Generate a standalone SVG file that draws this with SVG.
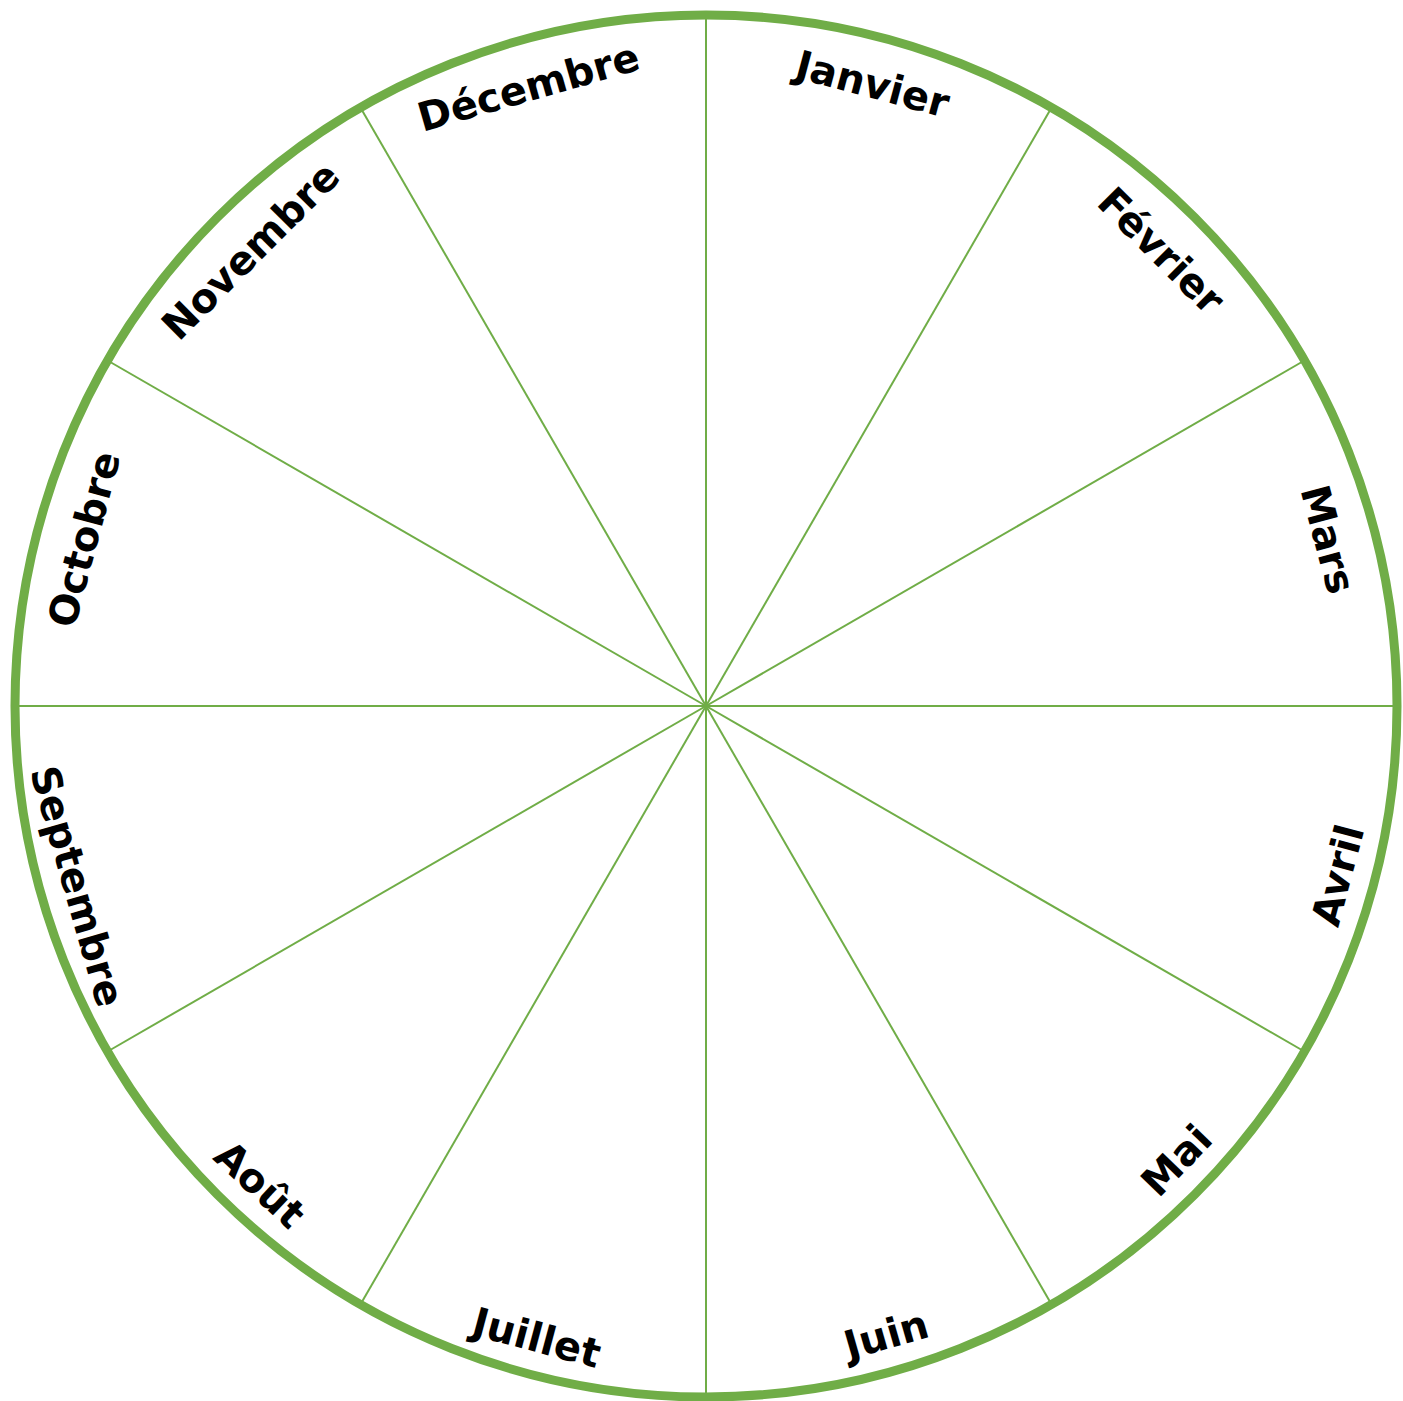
<svg xmlns="http://www.w3.org/2000/svg" width="1403" height="1401" viewBox="0 0 1403 1401">
<style>
.rim{fill:none;stroke:#70AD47;stroke-width:9}
.spoke{stroke:#70AD47;stroke-width:2}
.lbl{font-family:"DejaVu Sans",sans-serif;font-weight:bold;font-size:40px;fill:#000;text-anchor:middle}
</style>
<rect width="1403" height="1401" fill="#fff"/>
<g id="connectors">
<g transform="translate(706 706)">
<line class="spoke" x1="0" y1="0" x2="0" y2="-688"/>
<line class="spoke" x1="0" y1="0" x2="0" y2="-688" transform="rotate(30)"/>
<line class="spoke" x1="0" y1="0" x2="0" y2="-688" transform="rotate(60)"/>
<line class="spoke" x1="0" y1="0" x2="0" y2="-688" transform="rotate(90)"/>
<line class="spoke" x1="0" y1="0" x2="0" y2="-688" transform="rotate(120)"/>
<line class="spoke" x1="0" y1="0" x2="0" y2="-688" transform="rotate(150)"/>
<line class="spoke" x1="0" y1="0" x2="0" y2="-688" transform="rotate(180)"/>
<line class="spoke" x1="0" y1="0" x2="0" y2="-688" transform="rotate(210)"/>
<line class="spoke" x1="0" y1="0" x2="0" y2="-688" transform="rotate(240)"/>
<line class="spoke" x1="0" y1="0" x2="0" y2="-688" transform="rotate(270)"/>
<line class="spoke" x1="0" y1="0" x2="0" y2="-688" transform="rotate(300)"/>
<line class="spoke" x1="0" y1="0" x2="0" y2="-688" transform="rotate(330)"/>
</g>
</g>
<g id="rim"><circle class="rim" cx="706" cy="706" r="691"/></g>
<g id="janvier" transform="rotate(15 706 706)"><text class="lbl" x="706" y="76">Janvier</text></g>
<g id="fevrier" transform="rotate(45 706 706)"><text class="lbl" x="706" y="76">Février</text></g>
<g id="mars" transform="rotate(75 706 706)"><text class="lbl" x="706" y="76">Mars</text></g>
<g id="avril" transform="rotate(-75 706 706)"><text class="lbl" x="706" y="1374">Avril</text></g>
<g id="mai" transform="rotate(-46 706 706)"><text class="lbl" x="706" y="1374">Mai</text></g>
<g id="juin" transform="rotate(-16 706 706)"><text class="lbl" x="706" y="1374">Juin</text></g>
<g id="juillet" transform="rotate(15 706 706)"><text class="lbl" x="706" y="1374">Juillet</text></g>
<g id="aout" transform="rotate(43 706 706)"><text class="lbl" x="706" y="1374">Août</text></g>
<g id="septembre" transform="rotate(74 706 706)"><text class="lbl" x="706" y="1374">Septembre</text></g>
<g id="octobre" transform="rotate(-75 706 706)"><text class="lbl" x="706" y="76">Octobre</text></g>
<g id="novembre" transform="rotate(-45 706 706)"><text class="lbl" x="706" y="76">Novembre</text></g>
<g id="decembre" transform="rotate(-16 706 706)"><text class="lbl" x="706" y="76">Décembre</text></g>
</svg>
